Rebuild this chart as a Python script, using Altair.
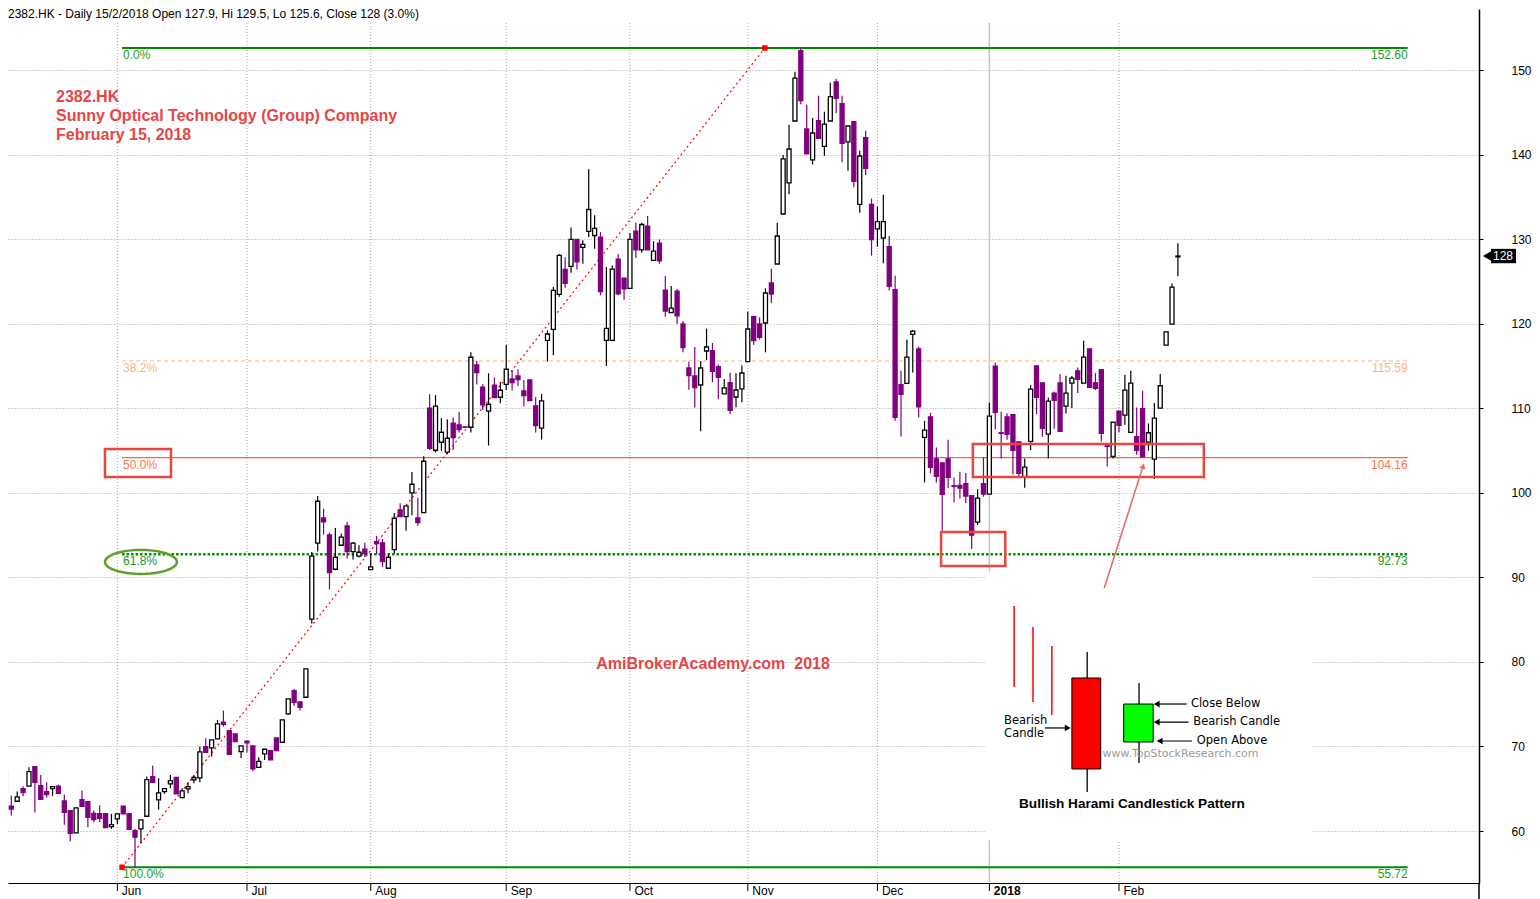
import math
import numpy as np
import pandas as pd
import altair as alt

# ---------------- data ----------------
opens = [67.03, 62.93, 63.52, 65.02, 65.30, 67.62, 65.38, 64.67, 65.02, 65.30,
         63.56, 62.42, 59.78, 63.72, 63.48, 62.10, 62.06, 62.06, 60.53, 61.43,
         62.93, 62.06, 60.06, 60.25, 61.75, 66.44, 63.68, 64.67, 65.57, 66.33,
         63.96, 64.98, 66.05, 66.29, 69.99, 69.83, 70.89, 72.87, 71.88, 71.49,
         69.40, 70.62, 70.07, 67.54, 69.12, 69.51, 71.01, 70.50, 73.85, 76.61,
         75.27, 75.82, 85.05, 94.04, 97.03, 95.02, 90.96, 93.80, 96.09, 93.05,
         92.50, 93.33, 90.92, 94.23, 94.08, 91.08, 93.29, 97.98, 97.19, 100.0,
         97.03, 97.66, 110.0, 105.03, 105.98, 104.80, 108.23, 108.03, 107.8, 107.75,
         115.13, 112.48, 109.65, 112.72, 111.30, 112.83, 113.46, 113.82, 112.05, 113.35,
         110.28, 107.64, 118.03, 119.33, 123.46, 126.42, 126.77, 129.96, 129.02, 130.91,
         130.43, 130.24, 118.03, 118.03, 127.64, 125.39, 124.17, 130.94, 128.74, 131.54,
         127.48, 129.53, 123.98, 121.30, 123.86, 119.96, 114.76, 113.82, 112.75, 116.77,
         116.81, 114.92, 111.69, 113.03, 111.33, 112.28, 115.51, 120.83, 119.96, 120.08,
         124.81, 127.06, 132.97, 136.64, 143.97, 152.29, 143.02, 139.36, 144.01, 140.97,
         143.97, 148.58, 146.02, 141.49, 143.89, 134.12, 142.0, 134.12, 131.20, 130.13,
         129.11, 124.02, 112.78, 112.93, 118.73, 117.03, 106.55, 108.99, 104.02, 103.55,
         104.02, 100.83, 100.87, 101.07, 99.65, 96.54, 101.07, 99.85, 114.98, 107.10,
         108.99, 109.23, 106.03, 101.90, 106.07, 115.02, 113.01, 106.94, 111.79, 113.01,
         110.25, 112.97, 114.43, 112.97, 117.03, 113.01, 114.55, 105.56, 104.30, 109.66,
         109.19, 107.14, 106.63, 109.94, 106.0, 103.98, 110.02, 117.47, 119.95, 127.9]
highs = [67.03, 64.19, 64.67, 65.30, 67.54, 67.62, 66.64, 65.77, 65.26, 65.49,
         64.31, 62.42, 62.74, 64.79, 63.48, 62.42, 63.01, 62.06, 62.02, 62.02,
         62.93, 62.06, 60.25, 61.32, 66.44, 67.74, 66.25, 65.02, 66.64, 66.33,
         65.06, 65.77, 66.56, 69.99, 70.97, 70.78, 73.14, 74.25, 71.88, 71.49,
         70.07, 70.70, 70.07, 68.73, 69.67, 69.51, 71.01, 73.14, 75.62, 76.8,
         75.27, 79.17, 93.01, 99.63, 98.14, 95.30, 95.85, 95.18, 96.56, 94.19,
         93.80, 94.08, 92.81, 94.90, 94.55, 92.73, 97.62, 98.77, 98.45, 102.47,
         99.40, 104.32, 111.66, 111.54, 108.82, 108.70, 108.90, 109.57, 107.85, 116.62,
         115.60, 112.83, 114.13, 113.66, 113.11, 117.48, 114.53, 114.61, 113.35, 113.35,
         111.34, 111.69, 119.21, 124.33, 128.23, 127.87, 131.38, 129.96, 129.88, 138.27,
         132.83, 130.83, 126.69, 126.89, 128.23, 125.39, 130.71, 131.93, 131.93, 132.72,
         129.76, 129.96, 125.63, 124.45, 124.09, 120.31, 115.51, 117.24, 115.55, 119.41,
         117.72, 115.16, 113.46, 114.21, 114.13, 115.04, 121.42, 120.95, 120.75, 124.18,
         126.51, 131.95, 139.95, 143.54, 149.80, 152.60, 145.90, 144.32, 146.96, 145.07,
         148.50, 148.98, 146.96, 143.38, 143.89, 140.46, 142.83, 134.79, 133.84, 135.26,
         130.37, 125.68, 114.43, 118.10, 119.24, 117.31, 108.52, 109.46, 105.36, 103.55,
         106.27, 101.82, 102.49, 102.33, 99.65, 100.44, 104.18, 110.65, 115.42, 109.58,
         109.42, 109.23, 106.03, 104.06, 112.74, 115.02, 113.01, 111.28, 111.99, 114.04,
         113.84, 113.80, 114.82, 117.98, 117.03, 114.15, 114.55, 105.56, 108.36, 109.66,
         113.96, 114.43, 110.09, 112.07, 108.2, 110.61, 114.04, 119.04, 124.76, 129.5]
lows = [63.9, 61.83, 63.5, 64.12, 65.30, 62.18, 63.76, 63.96, 64.16, 64.47,
        60.73, 58.79, 59.78, 62.93, 60.45, 61.04, 61.04, 60.41, 60.25, 60.84,
        62.02, 60.21, 55.72, 58.60, 61.75, 65.77, 62.54, 64.39, 65.06, 64.39,
        63.96, 64.47, 65.65, 65.77, 69.32, 68.81, 70.89, 72.35, 69.08, 70.58,
        68.65, 69.28, 67.07, 67.54, 68.41, 68.41, 69.51, 70.50, 73.75, 74.80,
        74.25, 75.82, 84.54, 93.05, 95.06, 88.56, 90.84, 93.80, 92.22, 92.10,
        92.34, 92.42, 90.92, 92.73, 91.24, 91.08, 92.81, 97.19, 95.50, 97.35,
        96.09, 97.66, 105.07, 104.76, 104.95, 104.56, 105.07, 107.12, 107.7, 107.12,
        112.80, 109.80, 105.59, 111.26, 110.59, 112.13, 112.09, 112.64, 110.20, 110.91,
        107.13, 106.30, 115.51, 116.26, 123.19, 124.25, 126.02, 126.42, 127.09, 130.24,
        128.86, 123.35, 115.0, 118.03, 123.35, 122.83, 124.17, 127.76, 128.39, 128.74,
        127.48, 127.09, 120.83, 121.30, 119.96, 116.61, 112.20, 110.08, 107.27, 115.71,
        113.07, 111.06, 111.69, 109.32, 110.11, 110.70, 115.51, 117.52, 118.11, 116.61,
        122.41, 127.06, 132.97, 135.30, 143.97, 145.94, 140.07, 138.81, 141.92, 139.87,
        143.97, 144.88, 139.08, 138.10, 136.13, 133.13, 137.54, 128.05, 129.11, 127.14,
        123.91, 108.53, 106.67, 112.93, 114.23, 108.91, 101.23, 102.29, 101.23, 95.51,
        100.56, 98.86, 99.33, 98.78, 93.34, 96.18, 99.53, 99.85, 107.53, 104.06,
        106.27, 102.17, 101.90, 100.60, 105.05, 109.31, 106.63, 104.06, 107.57, 107.26,
        109.38, 110.02, 111.79, 112.97, 112.46, 112.14, 106.07, 103.12, 104.06, 107.14,
        108.04, 107.14, 104.50, 104.26, 104.97, 101.62, 110.02, 117.47, 119.95, 125.6]
closes = [64.31, 62.58, 64.04, 64.55, 67.03, 65.77, 63.76, 64.31, 65.26, 64.47,
          62.22, 59.74, 62.74, 62.93, 61.63, 61.36, 61.51, 60.41, 60.77, 62.02,
          62.02, 60.21, 59.27, 61.32, 66.09, 65.77, 64.51, 65.02, 65.97, 64.39,
          64.75, 65.26, 66.33, 69.36, 69.32, 70.78, 72.67, 72.63, 69.08, 70.58,
          70.07, 70.42, 67.35, 68.25, 69.67, 68.41, 69.51, 73.14, 75.62, 75.23,
          74.64, 79.17, 92.50, 99.00, 96.56, 90.57, 92.38, 94.75, 93.05, 94.04,
          92.97, 92.81, 91.24, 94.00, 91.87, 92.38, 96.99, 97.19, 98.45, 101.01,
          96.48, 103.73, 105.27, 110.24, 107.16, 106.45, 106.53, 107.48, 107.75, 116.03,
          114.22, 110.39, 110.47, 111.26, 112.13, 114.61, 113.03, 113.39, 111.50, 110.91,
          107.95, 110.87, 118.78, 123.94, 128.07, 124.76, 129.96, 127.32, 129.37, 133.50,
          131.26, 123.78, 119.45, 126.46, 123.54, 124.13, 129.96, 128.74, 131.73, 128.74,
          128.58, 127.44, 121.50, 121.85, 120.94, 117.17, 113.86, 112.44, 114.76, 117.24,
          114.37, 113.66, 112.40, 109.76, 112.16, 114.17, 119.37, 118.0, 118.39, 123.63,
          123.51, 130.37, 139.48, 140.66, 149.05, 146.37, 140.07, 142.55, 141.92, 143.61,
          146.85, 146.65, 141.33, 143.38, 136.83, 139.83, 138.37, 129.94, 132.07, 132.07,
          124.42, 108.93, 111.63, 116.05, 119.12, 110.17, 107.41, 103.0, 101.94, 99.81,
          101.82, 100.75, 100.56, 99.61, 95.0, 99.37, 99.85, 109.07, 109.50, 107.02,
          106.90, 105.01, 102.29, 103.04, 112.26, 111.28, 107.61, 110.84, 110.92, 107.26,
          111.79, 113.56, 113.41, 116.05, 112.46, 112.34, 107.02, 105.48, 108.36, 107.97,
          112.14, 112.97, 105.01, 104.26, 107.10, 108.83, 112.66, 119.04, 124.32, 128.0]

month_idx = [19, 41, 62, 85, 106, 126, 148, 167, 189]
month_lbl = ["Jun", "Jul", "Aug", "Sep", "Oct", "Nov", "Dec", "2018", "Feb"]
price_ticks = [60, 70, 80, 90, 100, 110, 120, 130, 140, 150]

fib_pct = ["0.0%", "38.2%", "50.0%", "61.8%", "100.0%"]
fib_val = [152.60, 115.59, 104.16, 92.73, 55.72]
fib_txt = ["152.60", "115.59", "104.16", "92.73", "55.72"]
fib_start, fib_end = 19.8, 238.0          # bar index where the Fibonacci tool is drawn
fib_anchor_i = [19.8, 128.9]
fib_anchor_p = [55.72, 152.60]

header = "2382.HK - Daily 15/2/2018 Open 127.9, Hi 129.5, Lo 125.6, Close 128 (3.0%)"
title_lines = ["2382.HK", "Sunny Optical Technology (Group) Company", "February 15, 2018"]
title_p = [146.81, 144.56, 142.31]
last_close = 128

# ---------------- styling / scales ----------------
W, H = 1471, 874
FONT = "Liberation Sans"
xs = alt.Scale(domain=[0.441, 250.1], nice=False, zero=False)
ys = alt.Scale(domain=[53.855, 157.214], nice=False, zero=False)

label_expr = " : ".join(f"datum.value == {i} ? '{l}'" for i, l in zip(month_idx, month_lbl)) + " : ''"
xaxis = alt.Axis(values=month_idx, labelExpr=label_expr, ticks=False, grid=False,
                 domainColor="black", domainWidth=1, labelAlign="left", labelBaseline="top",
                 labelPadding=2, labelOffset=4, labelFontSize=12, labelFont=FONT, labelColor="black",
                 labelFontWeight={"expr": "datum.value == 167 ? 'bold' : 'normal'"},
                 labelOverlap=False, labelFlush=False, title=None)
yaxis = alt.Axis(orient="right", values=price_ticks, grid=True, gridDash=[1, 2], gridColor="#a8a8a8",
                 tickSize=4, tickColor="black", domainColor="black", domainWidth=1.5,
                 labelPadding=28, labelFontSize=12, labelFont=FONT, labelColor="black", title=None)


def X(f):
    return alt.X(f, type="quantitative", scale=xs, axis=xaxis, title=None)


def Y(f):
    return alt.Y(f, type="quantitative", scale=ys, axis=yaxis, title=None)


# ---------------- tables ----------------
df = pd.DataFrame({"i": np.arange(len(opens)), "open": opens, "high": highs, "low": lows, "close": closes})
df["up"] = df["close"] >= df["open"]
df["edge"] = np.where(df["up"], "black", "#800080")
df["face"] = np.where(df["up"], "white", "#800080")
df["x0"] = df["i"] - 0.34
df["x1"] = df["i"] + 0.34

mon = pd.DataFrame({"i": month_idx, "lbl": month_lbl})
fib = pd.DataFrame({"p": fib_val, "pct": fib_pct, "txt": fib_txt, "x0": fib_start, "x1": fib_end})

layers = []

# month gridlines
layers.append(alt.Chart(mon[mon.lbl != "2018"]).mark_rule(color="#a8a8a8", strokeDash=[1, 2], strokeWidth=1)
              .encode(x=X("i"), y=alt.value(14), y2=alt.value(H)))
layers.append(alt.Chart(mon[mon.lbl == "2018"]).mark_rule(color="#c4c4c4", strokeWidth=1.5)
              .encode(x=X("i"), y=alt.value(14), y2=alt.value(H)))
# month ticks below the axis
layers.append(alt.Chart(mon).mark_rule(color="black", strokeWidth=1)
              .encode(x=X("i"), y=alt.value(H), y2=alt.value(H + 8)))
# right axis line continues below the plot
layers.append(alt.Chart(pd.DataFrame({"a": [0]})).mark_rule(color="black", strokeWidth=1.5)
              .encode(x=alt.value(W), y=alt.value(H), y2=alt.value(H + 17)))

# white inset box for the pattern illustration
inset = pd.DataFrame({"x0": [166.3], "x1": [221.8], "p0": [90.6], "p1": [58.9]})
layers.append(alt.Chart(inset).mark_rect(color="white")
              .encode(x=X("x0"), x2="x1", y=Y("p0"), y2="p1"))

# Fibonacci lines
def fibrule(mask, **kw):
    return alt.Chart(fib[mask]).mark_rule(**kw).encode(x=X("x0"), x2="x1", y=Y("p"))

layers.append(fibrule(fib.pct.isin(["0.0%", "100.0%"]), color="#008c00", strokeWidth=2))
layers.append(fibrule(fib.pct == "38.2%", color="#ffb266", strokeWidth=1, strokeDash=[4, 3]))
layers.append(fibrule(fib.pct == "50.0%", color="#ff6a1a", strokeWidth=1.2))
layers.append(fibrule(fib.pct == "61.8%", color="#009000", strokeWidth=2.5, strokeDash=[2.5, 2]))

fib_col = ["#1e9a1e", "#ffb27a", "#ff7350", "#1e9a1e", "#1e9a1e"]
fib["col"] = fib_col
layers.append(alt.Chart(fib).mark_text(align="left", baseline="top", dy=2, dx=1, fontSize=12, font=FONT)
              .encode(x=X("x0"), y=Y("p"), text="pct:N", color=alt.Color("col:N", scale=None)))
layers.append(alt.Chart(fib).mark_text(align="right", baseline="top", dy=2, fontSize=12, font=FONT)
              .encode(x=X("x1"), y=Y("p"), text="txt:N", color=alt.Color("col:N", scale=None)))

# diagonal of the Fibonacci tool + anchors
anc = pd.DataFrame({"i": fib_anchor_i, "p": fib_anchor_p})
layers.append(alt.Chart(anc).mark_line(color="#ff0000", strokeWidth=1.2, strokeDash=[2, 3])
              .encode(x=X("i"), y=Y("p")))
layers.append(alt.Chart(anc).mark_square(color="#ff0000", size=30, opacity=1)
              .encode(x=X("i"), y=Y("p")))

# candles
base = alt.Chart(df)
layers.append(base.mark_rule(strokeWidth=1.2, clip=True)
              .encode(x=X("i"), y=Y("low"), y2="high", color=alt.Color("edge:N", scale=None)))
layers.append(base.mark_rect(strokeWidth=1.3, clip=True)
              .encode(x=X("x0"), x2="x1", y=Y("open"), y2="close",
                      fill=alt.Fill("face:N", scale=None), stroke=alt.Stroke("edge:N", scale=None)))

# header and red title
layers.append(alt.Chart(pd.DataFrame({"t": [header]})).mark_text(align="left", baseline="top", fontSize=12,
                                                                 font=FONT, color="black")
              .encode(x=alt.value(0), y=alt.value(0), text="t:N"))
tt = pd.DataFrame({"t": title_lines, "p": title_p, "i": 8.6})
layers.append(alt.Chart(tt).mark_text(align="left", baseline="middle", fontSize=16, fontWeight="bold",
                                      font=FONT, color="#e64646")
              .encode(x=X("i"), y=Y("p"), text="t:N"))
layers.append(alt.Chart(pd.DataFrame({"t": ["AmiBrokerAcademy.com \u00a02018"], "i": [120.1], "p": [79.75]}))
              .mark_text(align="center", baseline="middle", fontSize=16, fontWeight="bold", font=FONT,
                         color="#e64646")
              .encode(x=X("i"), y=Y("p"), text="t:N"))

# red highlight boxes
boxes = pd.DataFrame({"x0": [16.9, 164.2, 158.8], "x1": [28.1, 203.4, 169.7],
                      "p0": [105.18, 105.77, 95.36], "p1": [101.87, 101.87, 91.34]})
layers.append(alt.Chart(boxes).mark_rect(fillOpacity=0, stroke="#e8463f", strokeWidth=2.5)
              .encode(x=X("x0"), x2="x1", y=Y("p0"), y2="p1"))

# green ellipse around 61.8%
pts = [(math.cos(2 * math.pi * k / 48), 0.333 * math.sin(2 * math.pi * k / 48)) for k in range(48)]
ell_path = "M" + " L".join(f"{a:.3f},{b:.3f}" for a, b in pts) + " Z"
layers.append(alt.Chart(pd.DataFrame({"i": [23.0], "p": [91.82]}))
              .mark_point(shape=ell_path, size=72 * 72, filled=False, stroke="#5f9e2a", strokeWidth=2.5,
                          opacity=1)
              .encode(x=X("i"), y=Y("p")))

# red arrow
arr = pd.DataFrame({"i0": [186.5], "p0": [88.74], "i1": [193.1], "p1": [103.17]})
layers.append(alt.Chart(arr).mark_rule(color="#ea6a6a", strokeWidth=1.6)
              .encode(x=X("i0"), y=Y("p0"), x2="i1", y2="p1"))
layers.append(alt.Chart(arr).mark_point(shape="triangle-up", size=40, filled=True, color="#ea6a6a", angle=17.7,
                                        opacity=1)
              .encode(x=X("i1"), y=Y("p1")))

# ---------- inset: bullish harami illustration ----------
dec = pd.DataFrame({"i": [171.2, 174.4, 177.6], "p0": [86.61, 84.13, 81.88], "p1": [77.03, 75.26, 73.72]})
layers.append(alt.Chart(dec).mark_rule(color="#ff0000", strokeWidth=1.5)
              .encode(x=X("i"), y=Y("p0"), y2="p1"))
ill = pd.DataFrame({"x0": [181.0, 189.8], "x1": [185.9, 194.8], "wx": [183.6, 192.4],
                    "b0": [78.10, 75.02], "b1": [67.34, 70.53], "w0": [81.17, 77.52], "w1": [64.62, 68.05],
                    "c": ["#ff0000", "#00ff00"]})
layers.append(alt.Chart(ill).mark_rule(color="black", strokeWidth=1.3)
              .encode(x=X("wx"), y=Y("w0"), y2="w1"))
layers.append(alt.Chart(ill).mark_rect(stroke="black", strokeWidth=1)
              .encode(x=X("x0"), x2="x1", y=Y("b0"), y2="b1", fill=alt.Fill("c:N", scale=None)))

notes = pd.DataFrame({"t": ["Close Below", "Bearish Candle", "Open Above"],
                      "p": [75.02, 72.89, 70.65], "tx": [201.2, 201.6, 202.2],
                      "a0": [195.4, 195.4, 195.9], "a1": [200.5, 200.8, 201.4]})
layers.append(alt.Chart(notes).mark_rule(color="black", strokeWidth=1.2)
              .encode(x=X("a0"), x2="a1", y=Y("p")))
layers.append(alt.Chart(notes).mark_point(shape="triangle-left", size=45, filled=True, color="black", opacity=1)
              .encode(x=X("a0"), y=Y("p")))
layers.append(alt.Chart(notes).mark_text(align="left", baseline="middle", fontSize=11.5, font="DejaVu Sans",
                                         color="black")
              .encode(x=X("tx"), y=Y("p"), text="t:N"))

bear = pd.DataFrame({"t": ["Bearish", "Candle"], "i": [169.5, 169.5], "p": [73.02, 71.48]})
layers.append(alt.Chart(bear).mark_text(align="left", baseline="middle", fontSize=11.5, font="DejaVu Sans",
                                        color="black")
              .encode(x=X("i"), y=Y("p"), text="t:N"))
barr = pd.DataFrame({"i0": [176.4], "i1": [180.3], "p": [72.19]})
layers.append(alt.Chart(barr).mark_rule(color="black", strokeWidth=1.2)
              .encode(x=X("i0"), x2="i1", y=Y("p")))
layers.append(alt.Chart(barr).mark_point(shape="triangle-right", size=45, filled=True, color="black", opacity=1)
              .encode(x=X("i1"), y=Y("p")))

layers.append(alt.Chart(pd.DataFrame({"t": ["www.TopStockResearch.com"], "i": [186.2], "p": [69.11]}))
              .mark_text(align="left", baseline="middle", fontSize=11, font="DejaVu Sans", color="#9a9a9a")
              .encode(x=X("i"), y=Y("p"), text="t:N"))
layers.append(alt.Chart(pd.DataFrame({"t": ["Bullish Harami Candlestick Pattern"], "i": [191.2], "p": [63.2]}))
              .mark_text(align="center", baseline="middle", fontSize=13.6, fontWeight="bold", font=FONT,
                         color="black")
              .encode(x=X("i"), y=Y("p"), text="t:N"))

# last price tag on the right axis
tag = pd.DataFrame({"p": [last_close], "t": [str(last_close)], "p0": [last_close + 0.85],
                    "p1": [last_close - 0.85]})
layers.append(alt.Chart(tag).mark_rect(color="black")
              .encode(x=alt.value(W + 12), x2=alt.value(W + 37), y=Y("p0"), y2="p1"))
layers.append(alt.Chart(tag).mark_point(shape="triangle-left", size=90, filled=True, color="black", opacity=1)
              .encode(x=alt.value(W + 8), y=Y("p")))
layers.append(alt.Chart(tag).mark_text(align="center", baseline="middle", fontSize=12, font=FONT, color="white")
              .encode(x=alt.value(W + 24), y=Y("p"), text="t:N"))

chart = (alt.layer(*layers)
         .properties(width=W, height=H, padding=0, background="white")
         .configure_view(stroke=None))

chart.save("out.html", embed_options={"renderer": "svg", "actions": False})
